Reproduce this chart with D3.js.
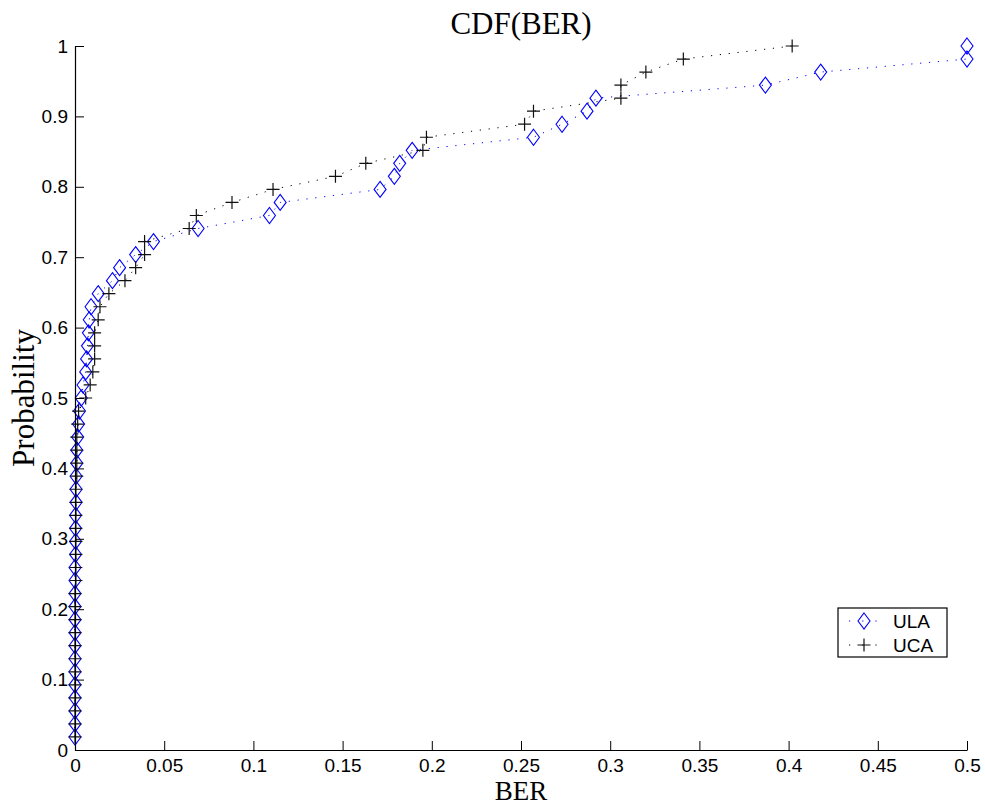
<!DOCTYPE html>
<html>
<head>
<meta charset="utf-8">
<script src="https://cdnjs.cloudflare.com/ajax/libs/d3/7.8.5/d3.min.js"></script>
<style>
    body { margin: 0; background: #fff; }
    .tick-label { font-family: "Liberation Sans", Arial, sans-serif; font-size: 19px; fill: #000; }
    .latex { font-family: "Liberation Serif", "Times New Roman", serif; font-size: 31px; fill: #000; }
</style>
</head>
<body>
<div id="chart"></div>
<script>
// sorted BER samples, one per CDF step (k / 54)
const ulaBer = [
    0, 0, 0, 0, 0, 0, 0, 0, 0, 0, 0, 0, 0, 0,
    0.0003, 0.0003, 0.0003, 0.0003, 0.0006, 0.0006, 0.0006,
    0.001, 0.001, 0.0015, 0.002, 0.0025, 0.0035, 0.0045, 0.006, 0.0065,
    0.007, 0.0075, 0.008, 0.009, 0.013, 0.021, 0.025, 0.034, 0.044, 0.069,
    0.109, 0.115, 0.171, 0.179, 0.182, 0.189, 0.257, 0.273, 0.287, 0.292,
    0.387, 0.418, 0.5, 0.5,
];
const ucaBer = [
    0, 0, 0, 0, 0, 0, 0, 0, 0, 0, 0, 0,
    0.0005, 0.0005, 0.0005, 0.0005, 0.0005, 0.0005, 0.0005, 0.0005,
    0.001, 0.001, 0.001, 0.001, 0.0015, 0.002, 0.006, 0.0085, 0.010, 0.011,
    0.011, 0.011, 0.013, 0.014, 0.019, 0.028, 0.034, 0.039, 0.039, 0.064,
    0.068, 0.088, 0.111, 0.146, 0.163, 0.195, 0.197, 0.252, 0.257, 0.306,
    0.306, 0.320, 0.341, 0.402,
];
const xTicks = [0, 0.05, 0.1, 0.15, 0.2, 0.25, 0.3, 0.35, 0.4, 0.45, 0.5];
const yTicks = [0, 0.1, 0.2, 0.3, 0.4, 0.5, 0.6, 0.7, 0.8, 0.9, 1];
const seriesNames = ['ULA', 'UCA'];

const width = 985;
const height = 806;
const margin = {top: 46, right: 18, bottom: 56, left: 75};

const svg = d3.select('#chart').append('svg')
    .attr('width', width)
    .attr('height', height);

const plotW = width - margin.left - margin.right;
const plotH = height - margin.top - margin.bottom;

const xFun = d3.scaleLinear().domain([0, 0.5]).range([0, plotW]);
const yFun = d3.scaleLinear().domain([0, 1]).range([plotH, 0]);

const g = svg.append('g').attr('transform', `translate(${margin.left},${margin.top})`);

// build cdf points
const toPoints = list => list.map((ber, i) => ({x: ber, y: (i + 1) / list.length}));

// marker shapes
const diamond = (sel) => sel.append('path')
    .attr('d', 'M0,-8L6,0L0,8L-6,0Z')
    .attr('fill', 'none')
    .attr('stroke', '#0000ff')
    .attr('stroke-width', 1.1);
const plus = (sel) => sel.append('path')
    .attr('d', 'M-6.5,0H6.5M0,-6.5V6.5')
    .attr('fill', 'none')
    .attr('stroke', '#111')
    .attr('stroke-width', 1.2);

const series = [
    {name: seriesNames[0], data: toPoints(ulaBer), color: '#0000ff', marker: diamond},
    {name: seriesNames[1], data: toPoints(ucaBer), color: '#000', marker: plus},
];

const line = d3.line().x(d => xFun(d.x)).y(d => yFun(d.y));

series.forEach((s) => {
    g.append('path')
        .datum(s.data)
        .attr('d', line)
        .attr('fill', 'none')
        .attr('stroke', s.color)
        .attr('stroke-width', 1)
        .attr('stroke-dasharray', '1.2,7.7');

    g.append('g').selectAll('g')
        .data(s.data)
        .join('g')
        .attr('transform', d => `translate(${xFun(d.x)},${yFun(d.y)})`)
        .each(function () { s.marker(d3.select(this)); });
});

// axes: inward ticks, no box
const xAxis = d3.axisBottom(xFun).tickValues(xTicks).tickSizeInner(-9).tickSizeOuter(0)
    .tickPadding(9).tickFormat(d => d3.format('')(d));
const yAxis = d3.axisLeft(yFun).tickValues(yTicks).tickSizeInner(-9).tickSizeOuter(0)
    .tickPadding(7).tickFormat(d => d3.format('')(d));

const xAxisG = g.append('g').attr('transform', `translate(0,${plotH})`).call(xAxis);
const yAxisG = g.append('g').call(yAxis);

[xAxisG, yAxisG].forEach((ax) => {
    ax.attr('font-size', null).attr('font-family', null);
    ax.select('.domain').attr('stroke', '#000').attr('stroke-width', 1.2);
    ax.selectAll('.tick line').attr('stroke', '#000').attr('stroke-width', 1);
    ax.selectAll('.tick text').attr('class', 'tick-label');
});

// titles
svg.append('text').attr('class', 'latex')
    .attr('x', margin.left + plotW / 2).attr('y', 34)
    .attr('text-anchor', 'middle')
    .text('CDF(BER)');
svg.append('text').attr('class', 'latex')
    .attr('x', margin.left + plotW / 2).attr('y', 800)
    .attr('text-anchor', 'middle')
    .style('font-size', '27px')
    .text('BER');
svg.append('text').attr('class', 'latex')
    .attr('transform', `translate(34,${margin.top + plotH / 2}) rotate(-90)`)
    .attr('text-anchor', 'middle')
    .text('Probability');

// legend
const legend = svg.append('g').attr('transform', 'translate(838,608)');
legend.append('rect')
    .attr('width', 109).attr('height', 49)
    .attr('fill', '#fff').attr('stroke', '#000').attr('stroke-width', 1.2);
series.forEach((s, i) => {
    const row = legend.append('g').attr('transform', `translate(0,${13 + i * 24})`);
    row.append('line')
        .attr('x1', 11).attr('x2', 42)
        .attr('stroke', s.color)
        .attr('stroke-dasharray', '1.2,12');
    s.marker(row.append('g').attr('transform', 'translate(26,0)'));
    row.append('text').attr('class', 'tick-label')
        .attr('x', 55).attr('y', 7)
        .text(s.name);
});
</script>
</body>
</html>
